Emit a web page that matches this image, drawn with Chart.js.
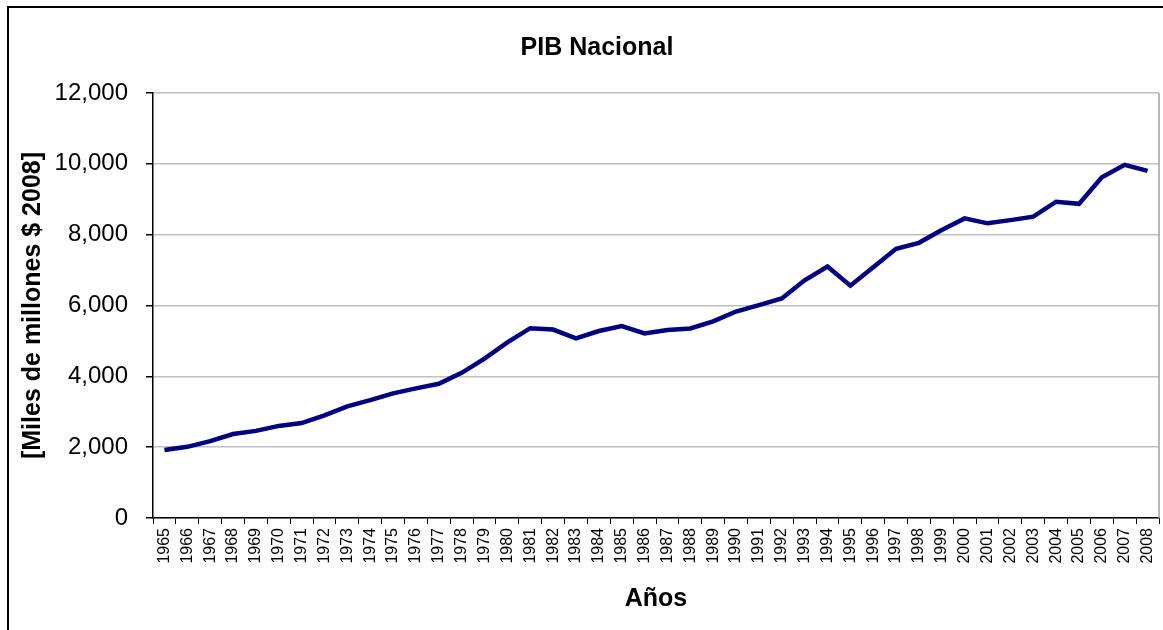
<!DOCTYPE html>
<html>
<head>
<meta charset="utf-8">
<title>PIB Nacional</title>
<script src="https://cdn.jsdelivr.net/npm/chart.js@4/dist/chart.umd.min.js"></script>
<style>
  html, body { margin: 0; padding: 0; background: #fff; }
  #wrap { width: 1163px; height: 630px; position: relative; }
</style>
</head>
<body>
<div id="wrap"><canvas id="chart"></canvas></div>
<script>
const years = [
  "1965", "1966", "1967", "1968", "1969", "1970", "1971", "1972", "1973", "1974", "1975",
  "1976", "1977", "1978", "1979", "1980", "1981", "1982", "1983", "1984", "1985", "1986",
  "1987", "1988", "1989", "1990", "1991", "1992", "1993", "1994", "1995", "1996", "1997",
  "1998", "1999", "2000", "2001", "2002", "2003", "2004", "2005", "2006", "2007", "2008",
];
const pib = [
  1920, 2010, 2170, 2370, 2460, 2600, 2680, 2900, 3150, 3330, 3520,
  3660, 3790, 4100, 4500, 4960, 5360, 5320, 5070, 5280, 5420, 5210,
  5310, 5350, 5550, 5830, 6010, 6200, 6710, 7100, 6560, 7080, 7600,
  7770, 8130, 8460, 8320, 8410, 8510, 8930, 8870, 9620, 9970, 9800,
];
const yTicks = [0, 2000, 4000, 6000, 8000, 10000, 12000];
const chartTitle = "PIB Nacional";

const FONT = "'Liberation Sans', Arial, sans-serif";

// outer frame, right border of the plot area, and the title (sits a bit right of centre)
const framePlugin = {
  id: "frame",
  afterDraw(chart) {
    const { ctx, chartArea } = chart;
    ctx.save();
    ctx.strokeStyle = "#000";
    ctx.lineWidth = 2;
    ctx.strokeRect(8, 7, 1200, 700);
    ctx.strokeStyle = "#a0a0a0";
    ctx.lineWidth = 1.5;
    ctx.beginPath();
    ctx.moveTo(chartArea.right, chartArea.top);
    ctx.lineTo(chartArea.right, chartArea.bottom);
    ctx.stroke();
    ctx.fillStyle = "#000";
    ctx.font = "bold 25px " + FONT;
    ctx.textAlign = "center";
    ctx.textBaseline = "middle";
    ctx.fillText(chartTitle, 597, 48);
    ctx.restore();
  },
};

const initChart = () => {
  const canvas = document.getElementById("chart");
  new Chart(canvas.getContext("2d"), {
    type: "line",
    data: {
      labels: years,
      datasets: [
        {
          label: "PIB",
          data: pib,
          borderColor: "#000080",
          borderWidth: 4.5,
          pointRadius: 0,
          tension: 0,
          fill: false,
        },
      ],
    },
    options: {
      responsive: true,
      maintainAspectRatio: false,
      animation: false,
      layout: { padding: { left: 8, right: 4, top: 93, bottom: 0 } },
      plugins: {
        legend: { display: false },
        tooltip: { enabled: false },
        title: { display: false },
      },
      scales: {
        x: {
          offset: true,
          grid: {
            offset: true,
            drawOnChartArea: false,
            drawTicks: true,
            tickLength: 6,
            tickColor: "#000",
          },
          border: { color: "#000", width: 1.5 },
          ticks: {
            autoSkip: false,
            maxRotation: 90,
            minRotation: 90,
            padding: 4,
            color: "#000",
            font: { family: FONT, size: 16 },
          },
          title: {
            display: true,
            text: "Años",
            color: "#000",
            font: { family: FONT, size: 25, weight: "bold", lineHeight: 1.2 },
            padding: { top: 0, bottom: 16 },
          },
          afterFit: (scale) => {
            scale.height = 112;
            scale.paddingLeft = 0;
            scale.paddingRight = 0;
          },
        },
        y: {
          min: 0,
          max: 12000,
          afterBuildTicks: (scale) => { scale.ticks = yTicks.map((v) => ({ value: v })); },
          grid: {
            color: "#c0c0c0",
            lineWidth: 1.5,
            tickLength: 7,
            tickColor: "#000",
          },
          border: { color: "#000", width: 1.5 },
          ticks: {
            padding: 18,
            color: "#000",
            font: { family: FONT, size: 24 },
            callback: (v) => Number(v).toLocaleString("en-US"),
          },
          title: {
            display: true,
            text: "[Miles de millones $ 2008]",
            color: "#000",
            font: { family: FONT, size: 25, weight: "bold", lineHeight: 1.2 },
            padding: { top: 10, bottom: 0 },
          },
          afterFit: (scale) => { scale.width = 145; },
        },
      },
    },
    plugins: [framePlugin],
  });
};

window.addEventListener("DOMContentLoaded", initChart);
</script>
</body>
</html>
